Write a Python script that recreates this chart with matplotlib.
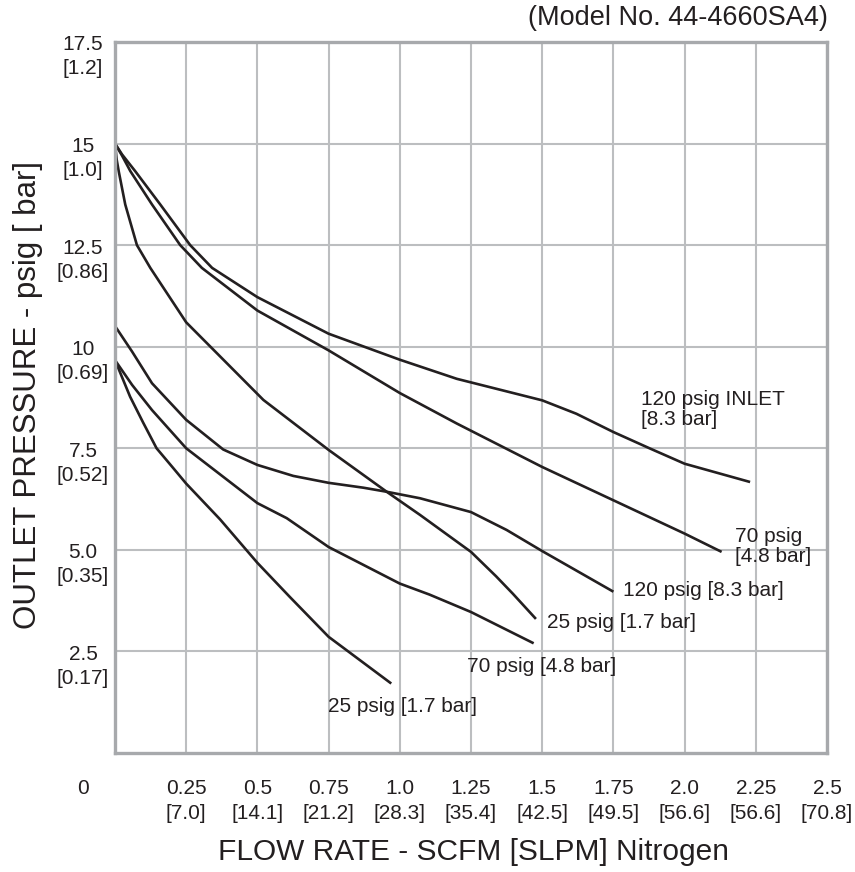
import matplotlib
matplotlib.use("Agg")
import matplotlib.pyplot as plt
import matplotlib.transforms as mtransforms

plt.rcParams['font.family'] = ['Liberation Sans', 'DejaVu Sans']

# ---------------- data ----------------
title = "(Model No. 44-4660SA4)"
x_label = "FLOW RATE - SCFM [SLPM] Nitrogen"
y_label = "OUTLET PRESSURE - psig [ bar]"

x_ticks = [0.25, 0.5, 0.75, 1.0, 1.25, 1.5, 1.75, 2.0, 2.25, 2.5]
x_tick_top = ["0.25", "0.5", "0.75", "1.0", "1.25", "1.5", "1.75", "2.0", "2.25", "2.5"]
x_tick_bottom = ["[7.0]", "[14.1]", "[21.2]", "[28.3]", "[35.4]", "[42.5]",
                 "[49.5]", "[56.6]", "[56.6]", "[70.8]"]
y_ticks = [2.5, 5.0, 7.5, 10, 12.5, 15, 17.5]
y_tick_top = ["2.5", "5.0", "7.5", "10", "12.5", "15", "17.5"]
y_tick_bottom = ["[0.17]", "[0.35]", "[0.52]", "[0.69]", "[0.86]", "[1.0]", "[1.2]"]

# set point 15 psig, 120 psig inlet
a_x = [0, 0.025, 0.071, 0.159, 0.264, 0.341, 0.5, 0.75, 1.0, 1.2, 1.5, 1.62, 1.75, 1.88, 2.0, 2.23]
a_y = [15, 14.73, 14.32, 13.5, 12.5, 11.94, 11.22, 10.32, 9.68, 9.21, 8.68, 8.35, 7.9, 7.49, 7.12, 6.67]
# set point 15 psig, 70 psig inlet
b_x = [0, 0.025, 0.054, 0.13, 0.229, 0.305, 0.5, 0.75, 1.0, 1.2, 1.5, 1.75, 2.0, 2.13]
b_y = [15, 14.7, 14.32, 13.5, 12.5, 11.94, 10.89, 9.91, 8.86, 8.11, 7.04, 6.22, 5.4, 4.95]
# set point 15 psig, 25 psig inlet
c_x = [0, 0.006, 0.013, 0.036, 0.077, 0.124, 0.25, 0.521, 0.75, 0.954, 1.071, 1.25, 1.338, 1.397, 1.478]
c_y = [15, 14.6, 14.32, 13.5, 12.5, 11.94, 10.6, 8.69, 7.46, 6.43, 5.86, 4.95, 4.35, 3.92, 3.3]
# set point ~10 psig, 120 psig inlet
d_x = [0, 0.06, 0.13, 0.25, 0.38, 0.5, 0.626, 0.75, 0.872, 0.954, 1.071, 1.25, 1.375, 1.5, 1.75]
d_y = [10.51, 9.88, 9.1, 8.2, 7.47, 7.09, 6.82, 6.65, 6.53, 6.43, 6.27, 5.93, 5.49, 4.97, 3.97]
# set point ~10 psig, 70 psig inlet
e_x = [0, 0.06, 0.13, 0.25, 0.5, 0.603, 0.75, 1.0, 1.104, 1.25, 1.47]
e_y = [9.67, 9.06, 8.44, 7.5, 6.15, 5.78, 5.07, 4.17, 3.9, 3.47, 2.7]
# set point ~10 psig, 25 psig inlet
f_x = [0, 0.053, 0.099, 0.146, 0.206, 0.25, 0.369, 0.5, 0.614, 0.75, 0.97]
f_y = [9.67, 8.77, 8.13, 7.5, 7.0, 6.63, 5.75, 4.68, 3.84, 2.86, 1.71]

series = [(a_x, a_y), (b_x, b_y), (c_x, c_y), (d_x, d_y), (e_x, e_y), (f_x, f_y)]

curve_labels = ["120 psig INLET\n[8.3 bar]", "70 psig\n[4.8 bar]", "25 psig [1.7 bar]",
                "120 psig [8.3 bar]", "70 psig [4.8 bar]", "25 psig [1.7 bar]"]

# ---------------- drawing ----------------
INK = "#231f20"
GRID = "#bcbec0"
FS = 15

fig = plt.figure(figsize=(8.55, 8.72), dpi=100)
ax = fig.add_axes([115/855, 1 - 753/872, 712/855, 711/872])
ax.set_xlim(0, 2.5)
ax.set_ylim(0, 17.5)

ax.set_xticks(x_ticks)
ax.set_yticks(y_ticks)
ax.grid(True, color=GRID, linewidth=1.5)
ax.set_axisbelow(True)
ax.tick_params(length=0, labelbottom=False, labelleft=False)
for s in ax.spines.values():
    s.set_color("#a7a9ac")
    s.set_linewidth(2.4)

for xs, ys in series:
    ax.plot(xs, ys, color=INK, linewidth=1.9, solid_joinstyle="round", solid_capstyle="butt")

def off(dy_px):
    return mtransforms.ScaledTranslation(0, -dy_px/100, fig.dpi_scale_trans)

# x tick labels
xt = mtransforms.blended_transform_factory(ax.transData, ax.transAxes)
for v, t1, t2 in zip(x_ticks, x_tick_top, x_tick_bottom):
    ax.text(v, 0, t1, transform=xt + off(35), ha="center", va="center", fontsize=FS, color=INK)
    ax.text(v, 0, t2, transform=xt + off(60), ha="center", va="center", fontsize=FS, color=INK)
ax.text(-32/712, 0, "0", transform=ax.transAxes + off(35), ha="center", va="center",
        fontsize=FS, color=INK)

# y tick labels
yt = mtransforms.blended_transform_factory(ax.transAxes, ax.transData)
for v, t1, t2 in zip(y_ticks, y_tick_top, y_tick_bottom):
    ax.text(-32/712, v, t1, transform=yt + off(3), ha="center", va="center", fontsize=FS, color=INK)
    ax.text(-32/712, v, t2, transform=yt + off(27), ha="center", va="center", fontsize=FS, color=INK)

# curve labels
label_pos = [(1.847, 8.71, 8.22), (2.177, 5.32, 4.83), (1.516, 3.22, None),
             (1.784, 4.01, None), (1.236, 2.14, None), (0.748, 1.14, None)]
for lab, (lx, ly, ly2) in zip(curve_labels, label_pos):
    lines = lab.split("\n")
    ax.text(lx, ly, lines[0], ha="left", va="center", fontsize=FS, color=INK)
    if ly2 is not None:
        ax.text(lx, ly2, lines[1], ha="left", va="center", fontsize=FS, color=INK)

fig.text(828/855, 1 - 18/872, title, ha="right", va="center", fontsize=19.5, color=INK)
fig.text(474/855, 1 - 852/872, x_label, ha="center", va="center", fontsize=21.5, color=INK)
fig.text(28/855, 1 - 395/872, y_label, ha="center", va="center", rotation=90,
         fontsize=22.5, color=INK)

fig.savefig("out.png", dpi=100)
